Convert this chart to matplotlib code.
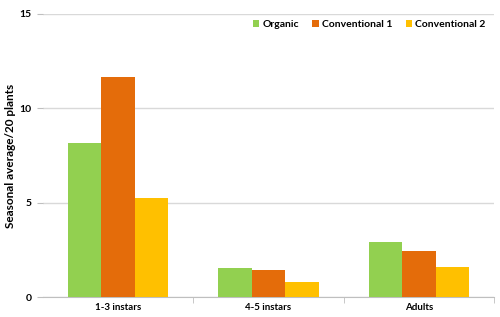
import matplotlib
matplotlib.use('Agg')
import matplotlib.pyplot as plt
import numpy as np

plt.rcParams['font.family'] = ['Lato', 'DejaVu Sans']

# --- data ---
stages = ['1-3 instars', '4-5 instars', 'Adults']
organic = [8.15, 1.52, 2.91]
conventional_1 = [11.68, 1.41, 2.42]
conventional_2 = [5.26, 0.79, 1.61]

series = [('Organic', organic, '#92D050'),
          ('Conventional 1', conventional_1, '#E46C0A'),
          ('Conventional 2', conventional_2, '#FFC000')]

fig = plt.figure(figsize=(5, 3.17), dpi=100)
ax = fig.add_axes([0.086, 0.063, 0.902, 0.893])

x = np.arange(len(stages))
w = 0.222
for i, (name, vals, col) in enumerate(series):
    ax.bar(x + (i - 1) * w, vals, width=w, color=col, label=name, zorder=3)

ax.set_xlim(-0.5, 2.5)
ax.set_ylim(0, 15)
ax.set_yticks([0, 5, 10, 15])
ax.yaxis.grid(True, color='#D9D9D9', linewidth=1, zorder=0)

# category boundary ticks on the x axis
ax.set_xticks(x)
ax.set_xticklabels(stages, fontsize=7, fontweight='bold')
ax.tick_params(axis='x', length=0, pad=4)
ax.set_xticks([0.5, 1.5, 2.5], minor=True)
ax.tick_params(axis='x', which='minor', length=4, color='#BFBFBF', direction='out')
ax.tick_params(axis='y', labelsize=7.5, length=4, color='#BFBFBF', pad=4)
for lbl in ax.get_yticklabels():
    lbl.set_fontweight('bold')

for s in ['top', 'right', 'left']:
    ax.spines[s].set_visible(False)
ax.spines['bottom'].set_color('#BFBFBF')

ax.set_ylabel('Seasonal average/20 plants', fontsize=8.5, fontweight='bold', labelpad=3)

leg = ax.legend(loc='upper right', bbox_to_anchor=(0.995, 1.0), ncol=3, frameon=False,
                fontsize=7.5, handlelength=0.6, handleheight=0.6, handletextpad=0.3,
                columnspacing=1.3, borderaxespad=0.2)
for t in leg.get_texts():
    t.set_fontweight('bold')

fig.savefig('out.png', dpi=100)
